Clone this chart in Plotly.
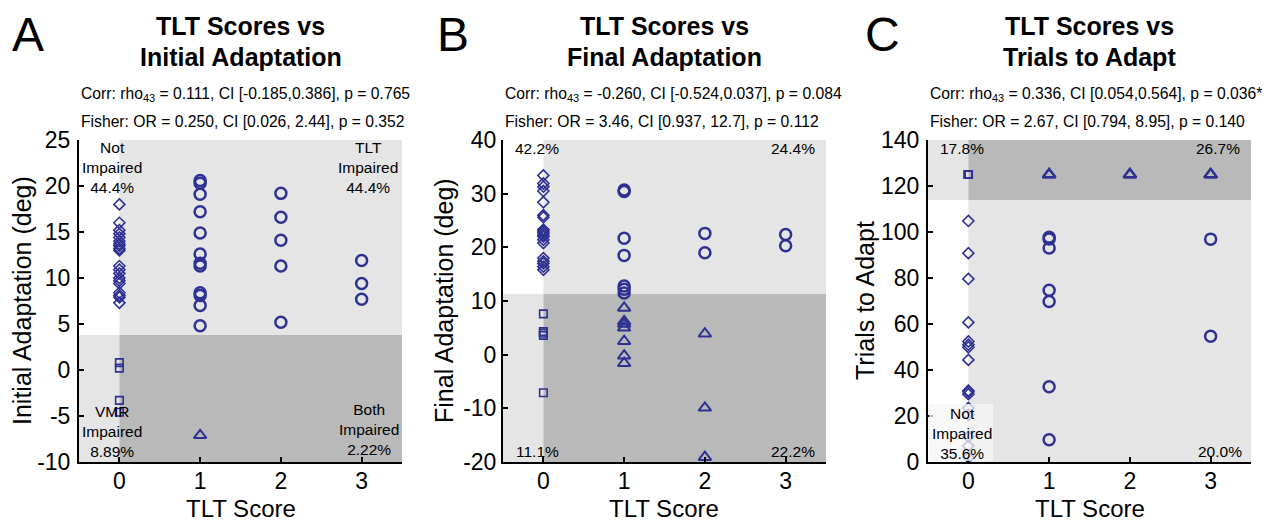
import plotly.graph_objects as go

# ---------------- data ----------------
# Panel A: TLT score vs initial adaptation (deg)
a_diamond_val = [18.0, 16.0, 15.2, 14.8, 14.4, 14.0, 13.7, 13.5, 13.2, 13.0,
                 11.3, 10.9, 10.5, 10.0, 9.7, 9.4, 8.4, 8.1, 7.9, 7.3]
a_diamond_score = [0] * len(a_diamond_val)
a_square_val = [0.8, 0.2, -3.3, -4.6]
a_square_score = [0] * len(a_square_val)
a_circle_score = [1] * 12 + [2] * 5 + [3] * 3
a_circle_val = [20.6, 20.3, 19.1, 17.2, 14.9, 12.6, 11.6, 11.3, 8.4, 8.1, 7.0, 4.8,
                19.2, 16.6, 14.1, 11.3, 5.2,
                11.9, 9.4, 7.7]
a_triangle_score = [1]
a_triangle_val = [-7.1]

# Panel B: TLT score vs final adaptation (deg)
b_diamond_val = [33.4, 31.9, 31.3, 30.5, 28.4, 26.0, 25.6, 23.3, 23.0, 22.7,
                 22.3, 22.0, 21.4, 20.8, 18.0, 17.4, 17.0, 16.4, 15.8]
b_diamond_score = [0] * len(b_diamond_val)
b_square_val = [7.6, 4.3, 4.0, 3.6, -7.1]
b_square_score = [0] * len(b_square_val)
b_circle_score = [1] * 7 + [2] * 2 + [3] * 2
b_circle_val = [30.7, 30.4, 21.7, 18.5, 12.8, 12.2, 11.5,
                22.6, 19.0,
                22.4, 20.3]
b_triangle_score = [1] * 7 + [2] * 3
b_triangle_val = [8.7, 6.2, 5.7, 5.0, 2.5, -0.2, -1.6,
                  3.9, -9.9, -19.1]

# Panel C: TLT score vs trials to adapt
c_diamond_val = [104.8, 90.8, 79.6, 60.7, 52.4, 51.0, 49.9, 44.4,
                 31.0, 30.5, 29.5, 23.5, 20.5, 11.0, 7.0, 2.0]
c_diamond_score = [0] * len(c_diamond_val)
c_square_val = [125] * 8
c_square_score = [0] * 8
c_circle_score = [1] * 7 + [3] * 2
c_circle_val = [97.7, 97.0, 93.0, 74.7, 69.8, 32.7, 9.7,
                96.9, 54.7]
c_triangle_score = [1] * 4 + [2] * 4 + [3] * 4
c_triangle_val = [125] * 12

# thresholds (impairment cut-offs)
thr_a = 3.8
thr_b = 11.3
thr_c = 113.8

# tick values / labels
x_tickvals = [0, 1, 2, 3]
x_ticktext = ["0", "1", "2", "3"]
a_ytickvals = [-10, -5, 0, 5, 10, 15, 20, 25]
a_yticktext = ["-10", "-5", "0", "5", "10", "15", "20", "25"]
b_ytickvals = [-20, -10, 0, 10, 20, 30, 40]
b_yticktext = ["-20", "-10", "0", "10", "20", "30", "40"]
c_ytickvals = [0, 20, 40, 60, 80, 100, 120, 140]
c_yticktext = ["0", "20", "40", "60", "80", "100", "120", "140"]

title_line1 = ["TLT Scores vs", "TLT Scores vs", "TLT Scores vs"]
title_line2 = ["Initial Adaptation", "Final Adaptation", "Trials to Adapt"]
corr_text = ["Corr: rho<sub>43</sub> = 0.111, CI [-0.185,0.386], p = 0.765",
             "Corr: rho<sub>43</sub> = -0.260, CI [-0.524,0.037], p = 0.084",
             "Corr: rho<sub>43</sub> = 0.336, CI [0.054,0.564], p = 0.036*"]
fisher_text = ["Fisher: OR = 0.250, CI [0.026, 2.44], p = 0.352",
               "Fisher: OR = 3.46, CI [0.937, 12.7], p = 0.112",
               "Fisher: OR = 2.67, CI [0.794, 8.95], p = 0.140"]
ytitles = ["Initial Adaptation (deg)", "Final Adaptation (deg)", "Trials to Adapt"]
xtitle = "TLT Score"
yranges = [[-10, 25], [-20, 40], [0, 140]]
letters = ["A", "B", "C"]

# ---------------- styling ----------------
W, H = 1266, 521
FONT = "Liberation Sans, Arial, sans-serif"
MC = "#2e3192"
LIGHT = "#e5e5e5"
DARK = "#b9b9b9"

px_left = [79, 503, 928]
px_w = 323
px_top, px_bot = 140, 462
ytitle_x = [22, 444, 865]
ytick_standoff = [2, 0, 2]
letter_x = [12, 437, 865]


def px2x(p):
    return p / W


def px2y(p):
    return 1 - p / H


fig = go.Figure()

panels = [
    (a_diamond_score, a_diamond_val, a_square_score, a_square_val,
     a_circle_score, a_circle_val, a_triangle_score, a_triangle_val),
    (b_diamond_score, b_diamond_val, b_square_score, b_square_val,
     b_circle_score, b_circle_val, b_triangle_score, b_triangle_val),
    (c_diamond_score, c_diamond_val, c_square_score, c_square_val,
     c_circle_score, c_circle_val, c_triangle_score, c_triangle_val),
]
ytick_sets = [(a_ytickvals, a_yticktext), (b_ytickvals, b_yticktext), (c_ytickvals, c_yticktext)]

for i, p in enumerate(panels):
    xa = "x" if i == 0 else f"x{i+1}"
    ya = "y" if i == 0 else f"y{i+1}"
    ds, dv, ss, sv, cs, cv, ts, tv = p
    fig.add_trace(go.Scatter(x=ds, y=dv, mode="markers", xaxis=xa, yaxis=ya,
                             marker=dict(symbol="diamond-open", size=8.5, color=MC,
                                         line=dict(width=1.6, color=MC))))
    fig.add_trace(go.Scatter(x=ss, y=sv, mode="markers", xaxis=xa, yaxis=ya,
                             marker=dict(symbol="square-open", size=7.5, color=MC,
                                         line=dict(width=1.6, color=MC))))
    fig.add_trace(go.Scatter(x=cs, y=cv, mode="markers", xaxis=xa, yaxis=ya,
                             marker=dict(symbol="circle-open", size=11, color=MC,
                                         line=dict(width=2.5, color=MC))))
    fig.add_trace(go.Scatter(x=ts, y=tv, mode="markers", xaxis=xa, yaxis=ya,
                             marker=dict(symbol="triangle-up-open", size=11, color=MC,
                                         line=dict(width=2, color=MC))))

layout = dict(width=W, height=H, margin=dict(l=0, r=0, t=0, b=0, pad=0, autoexpand=False),
              template="none",
              paper_bgcolor="white", plot_bgcolor="white", showlegend=False,
              font=dict(family=FONT, color="black"))

shapes = []
annotations = []
thrs = [thr_a, thr_b, thr_c]
for i in range(3):
    sfx = "" if i == 0 else str(i + 1)
    x0 = px2x(px_left[i])
    x1 = px2x(px_left[i] + px_w)
    layout["xaxis" + sfx] = dict(
        domain=[x0, x1], range=[-0.5, 3.5], tickmode="array",
        tickvals=x_tickvals, ticktext=x_ticktext,
        ticks="inside", ticklen=5, tickwidth=1.5, tickcolor="black",
        showline=True, linewidth=2, linecolor="black", showgrid=False, zeroline=False,
        tickfont=dict(size=23, family=FONT), anchor="y" + sfx, automargin=False,
        ticklabelstandoff=-3)
    layout["yaxis" + sfx] = dict(
        domain=[px2y(px_bot), px2y(px_top)], range=yranges[i], tickmode="array",
        tickvals=ytick_sets[i][0], ticktext=ytick_sets[i][1],
        ticks="inside", ticklen=5, tickwidth=1.5, tickcolor="black",
        showline=True, linewidth=2, linecolor="black", showgrid=False, zeroline=False,
        tickfont=dict(size=23, family=FONT), anchor="x" + sfx, automargin=False,
        ticklabelstandoff=ytick_standoff[i])
    xr = "x" + sfx
    yr = "y" + sfx
    lo, hi = yranges[i]
    t = thrs[i]
    if i < 2:
        quads = [(-0.5, 0, t, hi, "white"), (0, 3.5, t, hi, LIGHT),
                 (-0.5, 0, lo, t, LIGHT), (0, 3.5, lo, t, DARK)]
    else:
        quads = [(-0.5, 0, t, hi, LIGHT), (0, 3.5, t, hi, DARK),
                 (-0.5, 0, lo, t, "white"), (0, 3.5, lo, t, LIGHT)]
    for qx0, qx1, qy0, qy1, col in quads:
        shapes.append(dict(type="rect", xref=xr, yref=yr, x0=qx0, x1=qx1, y0=qy0, y1=qy1,
                           fillcolor=col, line=dict(width=0), layer="below"))

    cx = px_left[i] + px_w / 2
    annotations.append(dict(text="<b>" + title_line1[i] + "</b>", xref="paper", yref="paper",
                            x=px2x(cx), y=px2y(26), xanchor="center", yanchor="middle",
                            showarrow=False, font=dict(size=25, family=FONT)))
    annotations.append(dict(text="<b>" + title_line2[i] + "</b>", xref="paper", yref="paper",
                            x=px2x(cx), y=px2y(57), xanchor="center", yanchor="middle",
                            showarrow=False, font=dict(size=25, family=FONT)))
    annotations.append(dict(text=corr_text[i], xref="paper", yref="paper",
                            x=px2x(px_left[i]), y=px2y(94), xanchor="left", yanchor="middle",
                            showarrow=False, font=dict(size=15.7, family=FONT)))
    annotations.append(dict(text=fisher_text[i], xref="paper", yref="paper",
                            x=px2x(px_left[i]), y=px2y(121), xanchor="left", yanchor="middle",
                            showarrow=False, font=dict(size=15.7, family=FONT)))
    annotations.append(dict(text=letters[i], xref="paper", yref="paper",
                            x=px2x(letter_x[i] - 2), y=px2y(34), xanchor="left", yanchor="middle",
                            showarrow=False, font=dict(size=48, family=FONT)))
    # axis titles
    annotations.append(dict(text=ytitles[i], xref="paper", yref="paper",
                            x=px2x(ytitle_x[i]), y=px2y((px_top + px_bot) / 2),
                            xanchor="center", yanchor="middle", textangle=-90,
                            showarrow=False, font=dict(size=25, family=FONT)))
    annotations.append(dict(text=xtitle, xref="paper", yref="paper",
                            x=px2x(cx), y=px2y(508), xanchor="center", yanchor="middle",
                            showarrow=False, font=dict(size=24, family=FONT)))

# quadrant labels
def qlab(text, xpx, ypx):
    annotations.append(dict(text=text, xref="paper", yref="paper", x=px2x(xpx), y=px2y(ypx),
                            xanchor="center", yanchor="middle", showarrow=False,
                            font=dict(size=15.5, family=FONT), align="center"))

qlab("Not<br>Impaired<br>44.4%", 112, 167)
qlab("TLT<br>Impaired<br>44.4%", 368, 167)
qlab("VMR<br>Impaired<br>8.89%", 112, 431)
qlab("Both<br>Impaired<br>2.22%", 369, 429)

qlab("42.2%", 537, 148)
qlab("24.4%", 793, 148)
qlab("11.1%", 537, 451)
qlab("22.2%", 793, 451)

qlab("17.8%", 962, 148)
qlab("26.7%", 1218, 148)
qlab("20.0%", 1220, 451)

# semi-transparent box behind the C "Not Impaired" label
shapes.append(dict(type="rect", xref="paper", yref="paper",
                   x0=px2x(929), x1=px2x(993), y0=px2y(461), y1=px2y(404),
                   fillcolor="rgba(246,246,246,0.75)", line=dict(width=0), layer="above"))
qlab("Not<br>Impaired<br>35.6%", 962, 433)

layout["shapes"] = shapes
layout["annotations"] = annotations
fig.update_layout(**layout)
fig.write_html("out.html", config={"displayModeBar": False},
               post_script="document.body.style.margin='0px';")
